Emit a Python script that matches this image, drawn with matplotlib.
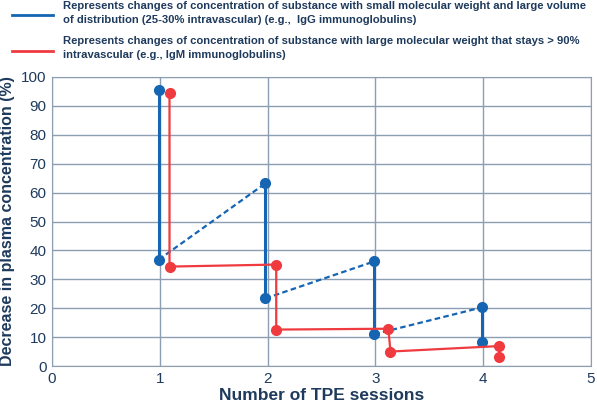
import matplotlib.pyplot as plt
from matplotlib.lines import Line2D

# blue series: small molecular weight, large volume of distribution (IgG)
igg_x = [0.99, 1.98, 2.99, 3.99]
igg_before = [95.6, 63.2, 36.2, 20.3]
igg_after = [36.8, 23.4, 11.0, 8.4]

# red series: large molecular weight, > 90% intravascular (IgM)
igm_x = [1.09, 1.09, 2.08, 2.08, 3.12, 3.14, 4.15, 4.15]
igm_y = [94.6, 34.4, 35.1, 12.6, 12.9, 5.0, 6.9, 3.2]

legend_labels = [
    "Represents changes of concentration of substance with small molecular weight and large volume\n"
    "of distribution (25-30% intravascular) (e.g.,  IgG immunoglobulins)",
    "Represents changes of concentration of substance with large molecular weight that stays > 90%\n"
    "intravascular (e.g., IgM immunoglobulins)",
]

blue = "#1565b3"
red = "#ef3b3f"
navy = "#1e3a5c"
gridc = "#8d9db2"

plt.rcParams['font.family'] = ['Liberation Sans', 'DejaVu Sans']

fig = plt.figure(figsize=(5.97, 4.04), dpi=100)
ax = fig.add_axes([52 / 597, 38 / 404, 539 / 597, 289 / 404])

# blue: solid drops during a session, dashed rebound between sessions
for i in range(len(igg_x)):
    ax.plot([igg_x[i], igg_x[i]], [igg_before[i], igg_after[i]], color=blue, lw=2.2,
            marker="o", ms=7, zorder=3)
    if i + 1 < len(igg_x):
        ax.plot([igg_x[i], igg_x[i + 1]], [igg_after[i], igg_before[i + 1]], color=blue,
                lw=1.6, ls=(0, (2.5, 1.5)), zorder=2)

ax.plot(igm_x, igm_y, color=red, lw=1.6, marker="o", ms=7, zorder=4)

ax.set_xlim(0, 5)
ax.set_ylim(0, 100)
ax.set_xticks(range(0, 6))
ax.set_yticks(range(0, 101, 10))
ax.grid(True, color=gridc, lw=1.0)
ax.set_axisbelow(True)
for s in ax.spines.values():
    s.set_color(gridc)
ax.tick_params(length=0, labelsize=11, colors=navy, pad=4)
ax.set_xlabel("Number of TPE sessions", fontsize=12.5, fontweight="bold", color=navy, labelpad=2)
ax.set_ylabel("Decrease in plasma concentration (%)", fontsize=11.5, fontweight="bold",
              color=navy, labelpad=4)

# legend drawn by hand at the top of the figure
for k, (lab, col) in enumerate(zip(legend_labels, [blue, red])):
    yl = 1 - (15 + 36 * k) / 404
    fig.add_artist(Line2D([12 / 597, 53 / 597], [yl, yl], color=col, lw=2))
    fig.text(63 / 597, 1 - (1 + 35 * k) / 404, lab, fontsize=8.1, fontweight="bold",
             color=navy, va="top", ha="left", linespacing=1.5)

fig.savefig("out.png", dpi=100)
